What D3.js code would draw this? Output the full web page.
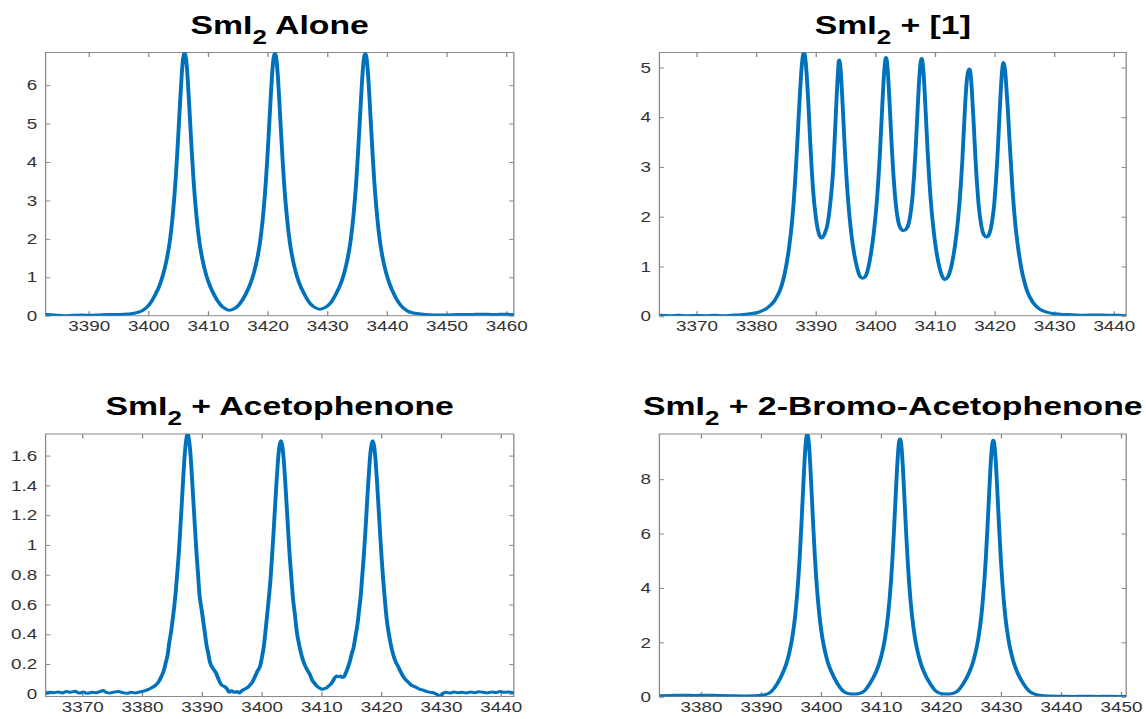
<!DOCTYPE html>
<html>
<head>
<meta charset="utf-8">
<script src="https://cdn.jsdelivr.net/npm/d3@7"></script>
<style>
  body { margin: 0; background: #fff; }
  svg { display: block; }
</style>
</head>
<body>
<script>
// ---- data ([field, intensity]) ----
const aloneData = [
  [3382.8,0.03],[3384.3,0.02],[3385.8,0.0],[3387.3,0.01],[3388.8,0.02],[3390.3,0.01],[3391.8,0.02],[3393.3,0.03],
  [3394.8,0.03],[3396.1,0.04],[3397.1,0.05],[3398.1,0.08],[3399.1,0.14],[3400.1,0.27],[3401.1,0.52],[3402.1,0.87],
  [3402.6,1.13],[3403.1,1.46],[3403.6,1.91],[3404.1,2.58],[3404.6,3.54],[3404.85,4.16],[3405.1,4.85],[3405.35,5.56],
  [3405.6,6.22],[3405.85,6.69],[3406.1,6.85],[3406.35,6.69],[3406.6,6.22],[3406.85,5.56],[3407.1,4.85],[3407.35,4.16],
  [3407.6,3.54],[3408.1,2.58],[3408.6,1.91],[3409.1,1.46],[3409.6,1.13],[3410.1,0.88],[3411.1,0.53],[3412.1,0.29],
  [3412.85,0.19],[3413.6,0.14],[3414.4,0.18],[3415.25,0.29],[3416.25,0.53],[3417.25,0.88],[3417.75,1.13],[3418.25,1.46],
  [3418.75,1.91],[3419.25,2.58],[3419.75,3.54],[3420.0,4.16],[3420.25,4.85],[3420.5,5.56],[3420.75,6.22],[3421.0,6.68],
  [3421.25,6.84],[3421.5,6.68],[3421.75,6.21],[3422.0,5.55],[3422.25,4.84],[3422.5,4.15],[3422.75,3.53],[3423.25,2.58],
  [3423.75,1.91],[3424.25,1.46],[3424.75,1.13],[3425.25,0.88],[3426.25,0.54],[3427.25,0.3],[3428.0,0.21],[3428.7,0.17],
  [3429.5,0.2],[3430.4,0.3],[3431.4,0.54],[3432.4,0.88],[3432.9,1.13],[3433.4,1.46],[3433.9,1.91],[3434.4,2.57],
  [3434.9,3.53],[3435.15,4.15],[3435.4,4.84],[3435.65,5.55],[3435.9,6.21],[3436.15,6.67],[3436.4,6.83],[3436.65,6.67],
  [3436.9,6.2],[3437.15,5.54],[3437.4,4.83],[3437.65,4.14],[3437.9,3.52],[3438.4,2.56],[3438.9,1.89],[3439.4,1.44],
  [3439.9,1.11],[3440.4,0.86],[3441.4,0.5],[3442.4,0.26],[3443.4,0.13],[3444.4,0.07],[3445.4,0.05],[3446.4,0.03],
  [3448,0.02],[3450,0.02],[3452,0.03],[3454,0.03],[3456,0.04],[3458,0.03],[3460,0.04],[3461.3,0.03]
];

const withOneData = [
  [3363.8,0.02],[3365.5,0.01],[3367,0.02],[3368.5,0.01],[3370,0.015],[3371.5,0.01],[3373,0.02],[3374.5,0.01],
  [3376,0.02],[3377.5,0.03],[3379,0.05],[3380.05,0.07],[3381.05,0.11],[3382.05,0.18],[3383.05,0.3],[3383.55,0.4],
  [3384.05,0.53],[3384.55,0.72],[3385.05,1.0],[3385.55,1.38],[3386.05,1.9],[3386.3,2.25],[3386.55,2.68],[3386.8,3.2],
  [3387.05,3.75],[3387.3,4.32],[3387.55,4.82],[3387.8,5.17],[3388.05,5.3],[3388.3,5.15],[3388.55,4.78],[3388.8,4.25],
  [3389.05,3.62],[3389.3,3.05],[3389.55,2.58],[3390.05,1.98],[3390.55,1.66],[3391.0,1.57],[3391.5,1.65],[3392.0,1.85],
  [3392.45,2.25],[3392.95,2.95],[3393.2,3.55],[3393.45,4.2],[3393.7,4.8],[3393.95,5.15],[3394.2,4.95],[3394.45,4.45],
  [3394.7,3.85],[3394.95,3.25],[3395.2,2.75],[3395.45,2.33],[3395.95,1.7],[3396.45,1.27],[3396.95,0.98],[3397.45,0.8],
  [3397.9,0.765],[3398.35,0.8],[3398.85,0.98],[3399.3,1.27],[3399.8,1.72],[3400.3,2.35],[3400.55,2.78],[3400.8,3.3],
  [3401.05,3.9],[3401.3,4.5],[3401.55,4.98],[3401.8,5.2],[3402.05,5.02],[3402.3,4.55],[3402.55,3.95],[3402.8,3.35],
  [3403.05,2.85],[3403.3,2.45],[3403.8,1.95],[3404.3,1.76],[3404.8,1.72],[3405.3,1.77],[3405.8,1.97],[3406.3,2.47],
  [3406.55,2.88],[3406.8,3.4],[3407.05,4.0],[3407.3,4.6],[3407.55,5.03],[3407.8,5.18],[3408.05,4.98],[3408.3,4.5],
  [3408.55,3.9],[3408.8,3.3],[3409.05,2.78],[3409.3,2.35],[3409.8,1.72],[3410.3,1.27],[3410.8,0.97],[3411.25,0.8],
  [3411.7,0.74],[3412.15,0.78],[3412.6,0.92],[3413.1,1.2],[3413.6,1.62],[3414.1,2.22],[3414.35,2.62],[3414.6,3.1],
  [3414.85,3.7],[3415.1,4.28],[3415.35,4.72],[3415.55,4.9],[3415.8,4.97],[3416.05,4.8],[3416.3,4.35],[3416.55,3.8],
  [3416.8,3.2],[3417.05,2.7],[3417.3,2.3],[3417.8,1.82],[3418.25,1.63],[3418.7,1.59],[3419.15,1.66],[3419.6,1.9],
  [3420.0,2.3],[3420.25,2.7],[3420.5,3.2],[3420.75,3.8],[3421.0,4.4],[3421.25,4.88],[3421.5,5.1],[3421.75,4.98],
  [3422.0,4.6],[3422.25,4.15],[3422.5,3.6],[3422.75,3.1],[3423.0,2.6],[3423.5,1.85],[3424.0,1.35],[3424.5,0.97],
  [3425.0,0.7],[3425.5,0.5],[3426.5,0.27],[3427.5,0.15],[3428.5,0.09],[3429.5,0.06],[3431,0.04],[3433,0.03],
  [3435,0.02],[3437,0.025],[3439,0.02],[3441,0.02],[3442.1,0.01]
];

const acetoData = [
  [3363.9,0.005],[3364.6,0.01],[3365.3,0.008],[3366.0,0.012],[3366.7,0.006],[3367.4,0.015],[3368.1,0.01],[3368.8,0.018],
  [3369.5,0.005],[3370.2,0.012],[3370.9,0.003],[3371.6,0.01],[3372.3,0.008],[3373.0,0.015],[3373.5,0.022],[3374.0,0.01],
  [3374.7,0.006],[3375.4,0.012],[3376.1,0.016],[3376.8,0.008],[3377.5,0.004],[3378.2,0.01],[3378.9,0.006],[3379.6,0.012],
  [3380.3,0.018],[3381.0,0.028],[3381.6,0.04],[3382.2,0.055],[3382.8,0.08],[3383.3,0.12],[3383.7,0.16],[3384.0,0.21],
  [3384.3,0.26],[3384.6,0.35],[3384.9,0.42],[3385.15,0.5],[3385.4,0.58],[3385.65,0.68],[3385.9,0.8],[3386.15,0.93],
  [3386.4,1.09],[3386.65,1.26],[3386.9,1.44],[3387.15,1.6],[3387.4,1.7],[3387.65,1.745],[3387.9,1.7],[3388.15,1.6],
  [3388.4,1.44],[3388.65,1.27],[3388.9,1.1],[3389.15,0.94],[3389.4,0.8],[3389.65,0.66],[3389.9,0.59],[3390.15,0.52],
  [3390.5,0.42],[3390.8,0.33],[3391.1,0.27],[3391.4,0.21],[3391.9,0.17],[3392.4,0.14],[3392.8,0.1],[3393.3,0.06],
  [3393.8,0.05],[3394.3,0.03],[3394.6,0.01],[3395.0,0.02],[3395.5,0.01],[3395.9,0.015],[3396.3,0.005],[3396.7,0.02],
  [3397.1,0.03],[3397.6,0.04],[3398.1,0.06],[3398.5,0.08],[3398.9,0.115],[3399.3,0.15],[3399.8,0.19],[3400.1,0.25],
  [3400.4,0.32],[3400.75,0.45],[3401.0,0.55],[3401.25,0.65],[3401.5,0.76],[3401.75,0.91],[3402.0,1.07],[3402.25,1.24],
  [3402.5,1.41],[3402.75,1.56],[3403.0,1.66],[3403.25,1.7],[3403.5,1.66],[3403.75,1.56],[3404.0,1.41],[3404.25,1.24],
  [3404.5,1.07],[3404.75,0.91],[3405.0,0.78],[3405.25,0.65],[3405.6,0.53],[3405.9,0.42],[3406.3,0.33],[3406.7,0.26],
  [3407.0,0.22],[3407.4,0.18],[3407.8,0.15],[3408.1,0.13],[3408.5,0.09],[3408.9,0.07],[3409.3,0.05],[3409.7,0.04],
  [3410.1,0.03],[3410.5,0.035],[3410.9,0.04],[3411.3,0.055],[3411.7,0.07],[3412.0,0.09],[3412.3,0.11],[3412.6,0.12],
  [3412.9,0.115],[3413.2,0.12],[3413.5,0.11],[3413.8,0.115],[3414.1,0.14],[3414.4,0.17],[3414.8,0.22],[3415.1,0.27],
  [3415.4,0.31],[3415.7,0.38],[3416.1,0.48],[3416.35,0.57],[3416.6,0.66],[3416.85,0.79],[3417.1,0.92],[3417.35,1.07],
  [3417.6,1.24],[3417.85,1.41],[3418.1,1.56],[3418.35,1.66],[3418.6,1.7],[3418.85,1.66],[3419.1,1.56],[3419.35,1.41],
  [3419.6,1.24],[3419.85,1.07],[3420.1,0.91],[3420.35,0.77],[3420.6,0.65],[3420.95,0.5],[3421.4,0.38],[3421.8,0.3],
  [3422.3,0.23],[3422.9,0.18],[3423.5,0.13],[3424.0,0.1],[3424.5,0.08],[3425.0,0.06],[3425.5,0.05],[3426.0,0.04],
  [3426.5,0.03],[3427.0,0.025],[3427.7,0.015],[3428.3,0.01],[3428.9,0.005],[3429.4,-0.005],[3429.9,-0.018],[3430.3,0.0],
  [3430.8,0.01],[3431.5,0.005],[3432.2,0.012],[3432.9,0.008],[3433.6,0.01],[3434.3,0.006],[3435.0,0.012],[3435.7,0.008],
  [3436.4,0.014],[3437.1,0.01],[3437.8,0.006],[3438.5,0.012],[3439.2,0.009],[3439.9,0.015],[3440.6,0.01],[3441.3,0.012],
  [3442.2,0.006]
];

const bromoData = [
  [3373.1,0.04],[3375,0.05],[3377,0.06],[3379,0.05],[3381,0.06],[3383,0.05],[3385,0.04],[3387,0.03],
  [3388.75,0.04],[3389.75,0.05],[3390.75,0.08],[3391.75,0.19],[3392.75,0.48],[3393.75,0.92],[3394.25,1.21],[3394.75,1.62],
  [3395.25,2.18],[3395.75,3.02],[3396.25,4.32],[3396.5,5.2],[3396.75,6.24],[3397.0,7.38],[3397.25,8.5],[3397.5,9.34],
  [3397.75,9.66],[3398.0,9.34],[3398.25,8.5],[3398.5,7.38],[3398.75,6.24],[3399.0,5.2],[3399.25,4.32],[3399.75,3.02],
  [3400.25,2.18],[3400.75,1.62],[3401.25,1.21],[3401.75,0.93],[3402.75,0.49],[3403.75,0.2],[3404.75,0.11],[3405.5,0.1],
  [3406.2,0.11],[3407.2,0.2],[3408.2,0.49],[3409.2,0.91],[3409.7,1.2],[3410.2,1.6],[3410.7,2.15],[3411.2,2.98],
  [3411.7,4.25],[3411.95,5.11],[3412.2,6.13],[3412.45,7.25],[3412.7,8.35],[3412.95,9.18],[3413.2,9.48],[3413.45,9.18],
  [3413.7,8.35],[3413.95,7.25],[3414.2,6.13],[3414.45,5.11],[3414.7,4.25],[3415.2,2.98],[3415.7,2.15],[3416.2,1.6],
  [3416.7,1.2],[3417.2,0.91],[3418.2,0.49],[3419.2,0.2],[3420.2,0.11],[3421.0,0.1],[3421.75,0.11],[3422.75,0.2],
  [3423.75,0.48],[3424.75,0.9],[3425.25,1.19],[3425.75,1.59],[3426.25,2.14],[3426.75,2.96],[3427.25,4.23],[3427.5,5.08],
  [3427.75,6.1],[3428.0,7.21],[3428.25,8.31],[3428.5,9.13],[3428.75,9.43],[3429.0,9.13],[3429.25,8.31],[3429.5,7.21],
  [3429.75,6.1],[3430.0,5.08],[3430.25,4.23],[3430.75,2.96],[3431.25,2.14],[3431.75,1.59],[3432.25,1.19],[3432.75,0.9],
  [3433.75,0.48],[3434.75,0.2],[3435.75,0.09],[3436.75,0.05],[3438,0.03],[3440,0.02],[3442,0.01],[3444,0.02],
  [3446,0.01],[3448,0.02],[3450.9,0.01]
];

// titles: all start with SmI2 (subscript 2)
const titleTails = [" Alone", " + [1]", " + Acetophenone", " + 2-Bromo-Acetophenone"];

// tick values
const aloneXTicks = [3390, 3400, 3410, 3420, 3430, 3440, 3450, 3460];
const aloneYTicks = [0, 1, 2, 3, 4, 5, 6];
const withOneXTicks = [3370, 3380, 3390, 3400, 3410, 3420, 3430, 3440];
const withOneYTicks = [0, 1, 2, 3, 4, 5];
const acetoXTicks = [3370, 3380, 3390, 3400, 3410, 3420, 3430, 3440];
const acetoYTicks = [0, 0.2, 0.4, 0.6, 0.8, 1, 1.2, 1.4, 1.6];
const bromoXTicks = [3380, 3390, 3400, 3410, 3420, 3430, 3440, 3450];
const bromoYTicks = [0, 2, 4, 6, 8];

const panels = [
  { data: aloneData, xt: aloneXTicks, yt: aloneYTicks, tail: titleTails[0] },
  { data: withOneData, xt: withOneXTicks, yt: withOneYTicks, tail: titleTails[1] },
  { data: acetoData, xt: acetoXTicks, yt: acetoYTicks, tail: titleTails[2] },
  { data: bromoData, xt: bromoXTicks, yt: bromoYTicks, tail: titleTails[3] }
];

// ---- layout ----
// the reference figure is stretched sideways, so draw in a narrower space and let the viewBox widen it
const STRETCH = 1.3;
const W = 1146, H = 719;
const cols = [[45.6, 513.8], [659.4, 1126.2]].map(c => c.map(v => v / STRETCH));
const rows = [[52.5, 315.7], [434, 696.5]];
const titleY = [34, 415];
const FONT = "'Liberation Sans', Arial, Helvetica, sans-serif";
const lineColor = "#0072BD";
const axisColor = "#8a8a8a";
const labelColor = "#333333";

const svg = d3.select("body").append("svg")
  .attr("width", W)
  .attr("height", H)
  .attr("viewBox", `0 0 ${W / STRETCH} ${H}`)
  .attr("preserveAspectRatio", "none");

const fmt = d3.format("~g");

panels.forEach((p, i) => {
  const [x0, x1] = cols[i % 2];
  const [y0, y1] = rows[Math.floor(i / 2)];

  // axis tight: limits are the data extent
  const x = d3.scaleLinear().domain(d3.extent(p.data, d => d[0])).range([x0, x1]);
  const y = d3.scaleLinear().domain(d3.extent(p.data, d => d[1])).range([y1, y0]);

  const g = svg.append("g");

  // ticks (inside, on all four sides)
  const bottom = g.append("g").attr("transform", `translate(0,${y1})`)
    .call(d3.axisBottom(x).tickValues(p.xt).tickSize(-4.5).tickSizeOuter(0).tickPadding(5.5).tickFormat(fmt));
  const top = g.append("g").attr("transform", `translate(0,${y0})`)
    .call(d3.axisTop(x).tickValues(p.xt).tickSize(-4.5).tickSizeOuter(0).tickFormat(""));
  const left = g.append("g").attr("transform", `translate(${x0},0)`)
    .call(d3.axisLeft(y).tickValues(p.yt).tickSize(-3.6).tickSizeOuter(0).tickPadding(6.5).tickFormat(fmt));
  const right = g.append("g").attr("transform", `translate(${x1},0)`)
    .call(d3.axisRight(y).tickValues(p.yt).tickSize(-3.6).tickSizeOuter(0).tickFormat(""));

  [bottom, top, left, right].forEach(a => {
    a.select(".domain").remove();
    a.selectAll(".tick line").attr("stroke", axisColor).attr("stroke-width", 1);
    a.selectAll(".tick text").attr("fill", labelColor).attr("font-size", 14.5).attr("font-family", FONT);
  });

  // box
  g.append("rect")
    .attr("x", x0).attr("y", y0)
    .attr("width", x1 - x0).attr("height", y1 - y0)
    .attr("fill", "none").attr("stroke", axisColor).attr("stroke-width", 1);

  // clip the trace to the axes
  const clipId = "clip" + i;
  svg.append("clipPath").attr("id", clipId)
    .append("rect").attr("x", x0).attr("y", y0).attr("width", x1 - x0).attr("height", y1 - y0);

  const line = d3.line()
    .x(d => x(d[0]))
    .y(d => y(d[1]))
    .curve(d3.curveMonotoneX);

  g.append("path")
    .datum(p.data)
    .attr("clip-path", `url(#${clipId})`)
    .attr("fill", "none")
    .attr("stroke", lineColor)
    .attr("stroke-width", 3)
    .attr("stroke-linejoin", "round")
    .attr("d", line);

  // title: SmI2 ...
  const t = svg.append("text")
    .attr("x", (x0 + x1) / 2)
    .attr("y", titleY[Math.floor(i / 2)])
    .attr("text-anchor", "middle")
    .attr("font-family", FONT)
    .attr("font-weight", "bold")
    .attr("font-size", 26)
    .style("white-space", "pre")
    .attr("fill", "#000");
  t.append("tspan").text("SmI");
  t.append("tspan").attr("font-size", 20).attr("dy", 10).text("2");
  t.append("tspan").attr("dy", -10).text(p.tail);
});
</script>
</body>
</html>
